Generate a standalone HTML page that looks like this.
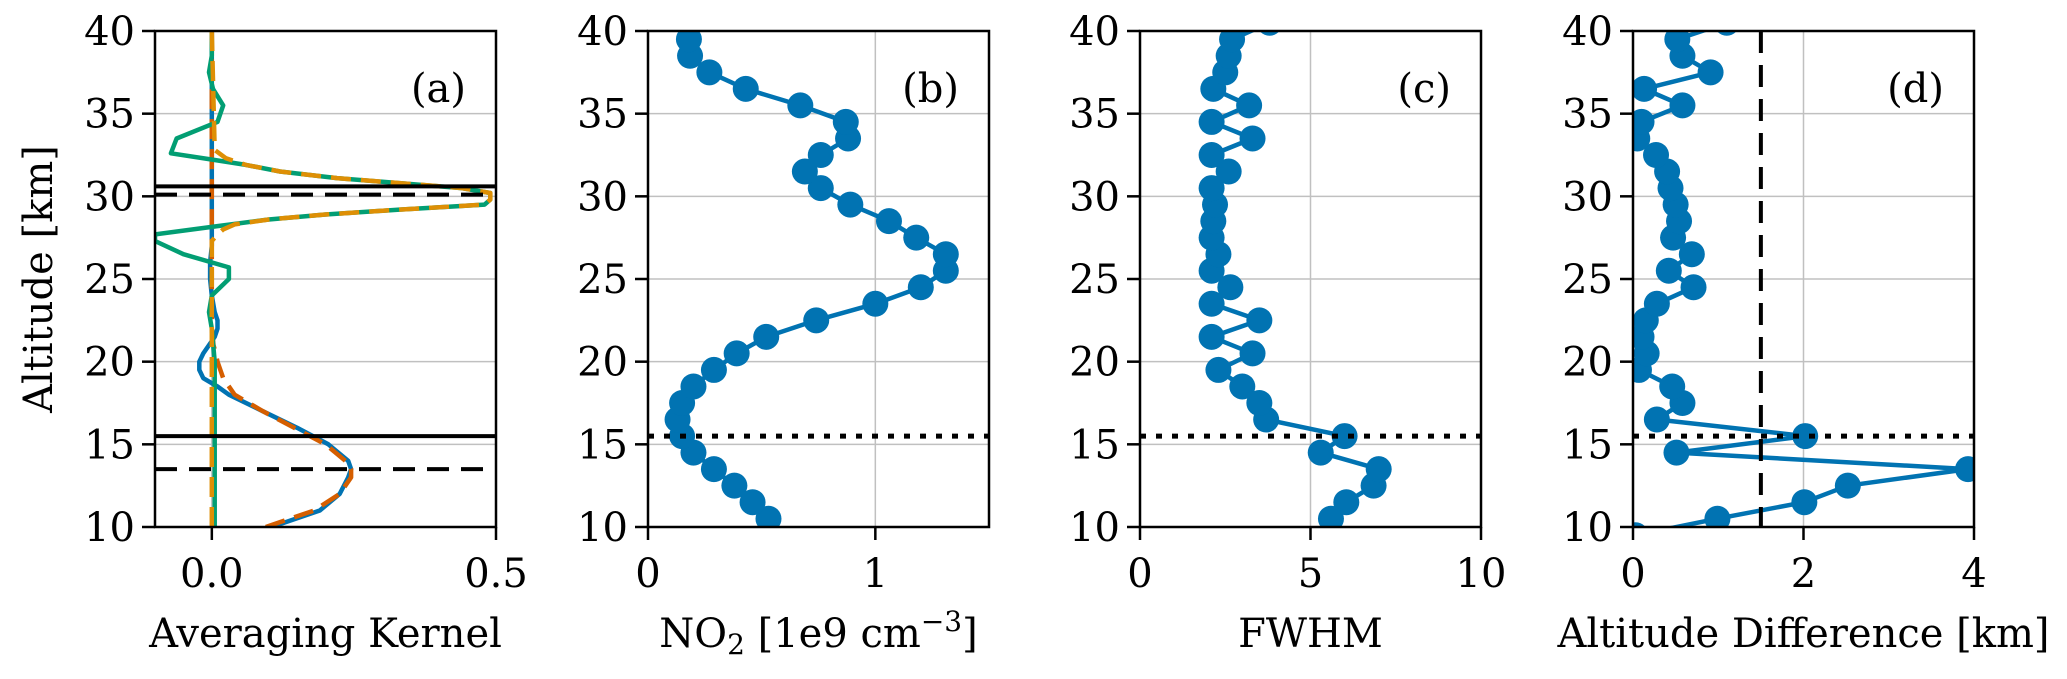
<!DOCTYPE html>
<html><head><meta charset="utf-8"><style>
html,body{margin:0;padding:0;background:#fff;}
svg text{font-family:"DejaVu Serif","Liberation Serif",serif;fill:#000;}
</style></head><body>
<svg id="fig" width="2067" height="674" viewBox="0 0 2067 674" xmlns="http://www.w3.org/2000/svg"></svg>
<script>
// ---- data ----
const akBlueAlt = [10,11,12,13,13.5,14,15,16,17,18,18.5,19,19.5,20,20.5,21,21.5,22,22.5,23,24,25,26,27,28,30,32,34,36,38,40];
const akBlueVal = [0.105,0.19,0.225,0.24,0.245,0.24,0.205,0.15,0.09,0.03,0.01,-0.015,-0.022,-0.022,-0.015,-0.005,0.005,0.01,0.01,0.005,0,-0.003,-0.003,0,0,0,0,0,0,0,0];
const akRedAlt = [10,11,12,13,13.5,14,15,16,17,18,19,20,20.5,21,22,40];
const akRedVal = [0.095,0.18,0.225,0.245,0.245,0.235,0.2,0.145,0.09,0.04,0.02,0.01,0.007,0.003,0,0];
const akGreenAlt = [10,20,22,23,24,25,25.7,26.5,27.3,27.7,28.2,28.6,28.9,29.2,29.5,29.8,30.2,30.5,30.8,31.1,31.5,31.9,32.2,32.6,33.5,34.5,35.5,36.5,37.5,38.5,40];
const akGreenVal = [0.005,0.005,0,-0.005,0,0.03,0.03,-0.05,-0.1,-0.1,0.01,0.1,0.2,0.33,0.48,0.49,0.49,0.44,0.33,0.22,0.12,0.06,0.005,-0.072,-0.062,0.01,0.02,0.002,-0.005,0,0];
const akOrangeAlt = [10,27.3,27.7,28.0,28.3,28.6,28.9,29.2,29.5,29.8,30.2,30.5,30.8,31.1,31.5,31.9,32.3,32.8,40];
const akOrangeVal = [0,0,0.01,0.02,0.04,0.1,0.2,0.33,0.48,0.49,0.49,0.44,0.33,0.22,0.12,0.06,0.025,0.005,0];
const akSolidLines = [30.6,15.5];
const akDashedLines = [30.1,13.5];

const no2Alt = [10.5,11.5,12.5,13.5,14.5,15.5,16.5,17.5,18.5,19.5,20.5,21.5,22.5,23.5,24.5,25.5,26.5,27.5,28.5,29.5,30.5,31.5,32.5,33.5,34.5,35.5,36.5,37.5,38.5,39.5];
const no2Val = [0.53,0.46,0.38,0.29,0.20,0.15,0.13,0.15,0.20,0.29,0.39,0.52,0.74,1.00,1.20,1.31,1.31,1.18,1.06,0.89,0.76,0.69,0.76,0.88,0.87,0.67,0.43,0.27,0.185,0.18];

const fwhmAlt = [10.5,11.5,12.5,13.5,14.5,15.5,16.5,17.5,18.5,19.5,20.5,21.5,22.5,23.5,24.5,25.5,26.5,27.5,28.5,29.5,30.5,31.5,32.5,33.5,34.5,35.5,36.5,37.5,38.5,39.5,40.5];
const fwhmVal = [5.6,6.05,6.85,7.0,5.3,6.0,3.7,3.5,3.0,2.3,3.3,2.1,3.5,2.1,2.65,2.1,2.3,2.1,2.15,2.2,2.1,2.6,2.1,3.3,2.1,3.2,2.15,2.5,2.6,2.7,3.8];

const diffAlt = [9.5,10.5,11.5,12.5,13.5,14.5,15.5,16.5,17.5,18.5,19.5,20.5,21.5,22.5,23.5,24.5,25.5,26.5,27.5,28.5,29.5,30.5,31.5,32.5,33.5,34.5,35.5,36.5,37.5,38.5,39.5,40.5];
const diffVal = [0.03,0.99,2.01,2.52,3.93,0.51,2.02,0.28,0.58,0.46,0.07,0.16,0.1,0.15,0.28,0.71,0.42,0.69,0.47,0.54,0.5,0.44,0.4,0.27,0.05,0.1,0.58,0.13,0.91,0.58,0.52,1.1];

const tropLine = 15.5;
const diffThreshold = 1.5;
const yTicks = [10,15,20,25,30,35,40];
const xTicksA = [0.0,0.5], xTickLabA = ["0.0","0.5"];
const xTicksB = [0,1], xTickLabB = ["0","1"];
const xTicksC = [0,5,10], xTickLabC = ["0","5","10"];
const xTicksD = [0,2,4], xTickLabD = ["0","2","4"];

// ---- drawing ----
const NS = "http://www.w3.org/2000/svg";
const svg = document.getElementById('fig');
const TOP = 31, BOT = 527, W = 341, FS = 40;
function mk(tag, attrs, parent){
  const e = document.createElementNS(NS, tag);
  for (const k in attrs) e.setAttribute(k, attrs[k]);
  (parent||svg).appendChild(e); return e;
}
const defs = mk('defs', {});
const C = {blue:'#0173b2', orange:'#de8f05', green:'#029e73', red:'#d55e00'};

function panel(id, left, xmin, xmax, xt, xtl, xlabel, tag){
  const g = mk('g', {});
  
  
  const X = v => left + (v - xmin) / (xmax - xmin) * W;
  const Y = v => TOP + (40 - v) / 30 * (BOT - TOP);
  const cp = mk('clipPath', {id:'clip-'+id}, defs);
  mk('rect', {x:left, y:TOP, width:W, height:BOT-TOP}, cp);
  yTicks.forEach(t => { const l = mk('line', {x1:left, x2:left+W, y1:Y(t), y2:Y(t), stroke:'#c0c0c0', 'stroke-width':1.5}, g);
      });
  xt.forEach(t => { const l = mk('line', {x1:X(t), x2:X(t), y1:TOP, y2:BOT, stroke:'#c0c0c0', 'stroke-width':1.5}, g);
      });
  const plot = mk('g', {'clip-path':'url(#clip-'+id+')'}, g);
  yTicks.forEach(t => {
    mk('line', {x1:left-13, x2:left, y1:Y(t), y2:Y(t), stroke:'#000', 'stroke-width':2.5}, g);
    const tx = mk('text', {x:left-20, y:Y(t)+14, 'font-size':FS, 'text-anchor':'end'}, g);
    tx.textContent = t;
     
  });
  xt.forEach((t,i) => {
    mk('line', {x1:X(t), x2:X(t), y1:BOT, y2:BOT+13, stroke:'#000', 'stroke-width':2.5}, g);
    const tx = mk('text', {x:X(t), y:587, 'font-size':FS, 'text-anchor':'middle'}, g);
    tx.textContent = xtl[i];
     
  });
  const xl = mk('text', {x:left+W/2, y:647, 'font-size':FS, 'text-anchor':'middle'}, g);
  xl.innerHTML = xlabel;
   
  const pt = mk('text', {x:left+W-30, y:102, 'font-size':FS, 'text-anchor':'end'}, g);
  pt.textContent = tag;
   
  return {g, plot, X, Y, left};
}
function line(p, alts, vals, color, dash, name, w){
  const d = alts.map((a,i)=>(i?'L':'M')+p.X(vals[i]).toFixed(1)+','+p.Y(a).toFixed(1)).join(' ');
  const e = mk('path', {d, fill:'none', stroke:color, 'stroke-width':w||4.5, 'stroke-dasharray':dash||'none', 'stroke-linejoin':'round'}, p.plot);
   
}
function markers(p, alts, vals, name){
  line(p, alts, vals, C.blue, null, name+'-line', 4.5);
  alts.forEach((a,i)=>{
    const c = mk('circle', {cx:p.X(vals[i]), cy:p.Y(a), r:13, fill:C.blue}, p.plot);
     
  });
}
function hline(p, v, dash, name, w){
  const e = mk('line', {x1:p.left, x2:p.left+W, y1:p.Y(v), y2:p.Y(v), stroke:'#000', 'stroke-width':w||4, 'stroke-dasharray':dash||'none'}, p.plot);
   
}
function frame(p){
  const r = mk('rect', {x:p.left, y:TOP, width:W, height:BOT-TOP, fill:'none', stroke:'#000', 'stroke-width':2.5}, p.g);
   
}

const pa = panel('a', 155, -0.1, 0.5, xTicksA, xTickLabA, 'Averaging Kernel', '(a)');
line(pa, akBlueAlt, akBlueVal, C.blue, null, 'kernel-blue');
line(pa, akRedAlt, akRedVal, C.red, '20 10', 'kernel-red-dashed');
line(pa, akGreenAlt, akGreenVal, C.green, null, 'kernel-green');
line(pa, akOrangeAlt, akOrangeVal, C.orange, '20 10', 'kernel-orange-dashed');
akSolidLines.forEach(v => hline(pa, v, null, 'reference-line-solid', 4));
akDashedLines.forEach(v => hline(pa, v, '22 12', 'reference-line-dashed', 4));
frame(pa);

const pb = panel('b', 648, 0, 1.5, xTicksB, xTickLabB, 'NO<tspan baseline-shift="-25%" font-size="28">2</tspan> [1e9 cm<tspan baseline-shift="super" font-size="28">−3</tspan>]', '(b)');
markers(pb, no2Alt, no2Val, 'no2');
hline(pb, tropLine, '6 10', 'tropopause-dotted', 5);
frame(pb);

const pc = panel('c', 1140, 0, 10, xTicksC, xTickLabC, 'FWHM', '(c)');
markers(pc, fwhmAlt, fwhmVal, 'fwhm');
hline(pc, tropLine, '6 10', 'tropopause-dotted', 5);
frame(pc);

const pd = panel('d', 1633, 0, 4, xTicksD, xTickLabD, 'Altitude Difference [km]', '(d)');
markers(pd, diffAlt, diffVal, 'altdiff');
hline(pd, tropLine, '6 10', 'tropopause-dotted', 5);
const vl = mk('line', {x1:pd.X(diffThreshold), x2:pd.X(diffThreshold), y1:TOP, y2:BOT, stroke:'#000', 'stroke-width':4, 'stroke-dasharray':'22 12'}, pd.plot);
 
frame(pd);

const yt = mk('text', {x:0, y:0, 'font-size':FS, 'text-anchor':'middle', transform:'translate(52,279) rotate(-90)'});
yt.textContent = 'Altitude [km]';
 
</script>
</body></html>
